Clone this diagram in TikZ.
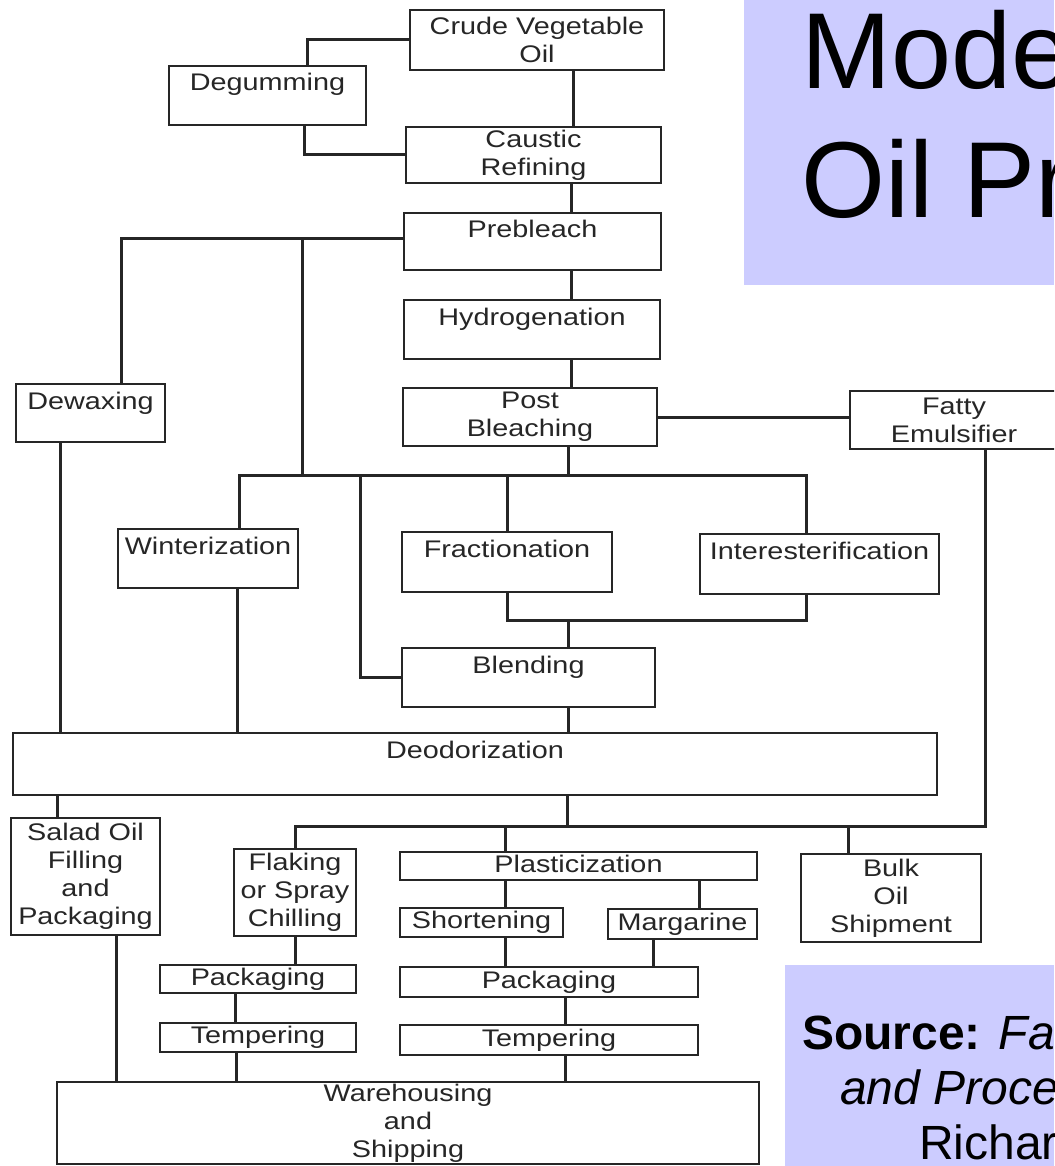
\documentclass[tikz,border=0pt]{standalone}
\usepackage{fontspec}
\usepackage{tikz}
\newfontfamily\flowfont[FakeStretch=1.2]{Liberation Sans}
\newfontfamily\slidefont{Liberation Sans}
\usetikzlibrary{
  positioning,
  calc
}
\definecolor{flowInk}{HTML}{262626}
\definecolor{slideBg}{HTML}{CCCCFF}
\tikzset{
  stage/.style={
    draw=flowInk, line width=2.6pt, inner sep=0pt, align=center,
    text=flowInk, font=\flowfont\fontsize{24pt}{28pt}\selectfont
  },
  topstage/.style={stage, inner ysep=8pt, text height=17pt, text depth=#1},
  thinstage/.style={stage, text height=17pt, text depth=5pt},
  link/.style={draw=flowInk, line width=3pt},
  slidebox/.style={fill=slideBg, draw=none},
  slidetitle/.style={font=\slidefont\fontsize{108pt}{129pt}\selectfont, align=left, inner sep=0pt, anchor=north west},
  slidenote/.style={font=\slidefont\fontsize{48pt}{55pt}\selectfont, align=left, inner sep=0pt, anchor=north west}
}
\begin{document}
\begin{tikzpicture}[x=1pt, y=-1pt]
  \useasboundingbox (0,0) rectangle (1054,1166);
  \clip (0,0) rectangle (1054,1166);
  \fill[white] (0,0) rectangle (1054,1166);
  \fill[slidebox] (744,0) rectangle (1054,285);
  \fill[slidebox] (785,965) rectangle (1054,1166);
  \node[slidetitle] (title) at (801,10.5) {Mode\\Oil Pr};
  \node[slidenote] (source) at (802,1015.5) {\textbf{Source:} \textit{Fa}\\\hspace*{38pt}\textit{and Proce}\\\hspace*{117pt}Richar};

  \node[stage, minimum width=254pt, minimum height=60pt] (crude) at (537,40) {Crude Vegetable\\Oil};
  \node[topstage=26pt, minimum width=197pt, minimum height=59pt] (degum) at (267.5,95.5) {Degumming};
  \node[stage, minimum width=255pt, minimum height=56pt] (caustic) at (533.5,155) {Caustic\\Refining};
  \node[topstage=24pt, minimum width=257pt, minimum height=57pt] (prebleach) at (532.5,241.5) {Prebleach};
  \node[topstage=26pt, minimum width=256pt, minimum height=59pt] (hydro) at (532,329.5) {Hydrogenation};
  \node[stage, minimum width=254pt, minimum height=58pt] (post) at (530,417) {Post\\Bleaching};
  \node[stage, minimum width=208pt, minimum height=58pt] (fatty) at (954,420) {Fatty\\Emulsifier};
  \node[topstage=25pt, minimum width=149pt, minimum height=58pt] (dewax) at (90.5,413) {Dewaxing};
  \node[topstage=26pt, minimum width=180pt, minimum height=59pt] (winter) at (208,558.5) {Winterization};
  \node[topstage=27pt, minimum width=210pt, minimum height=60pt] (fract) at (507,562) {Fractionation};
  \node[topstage=27pt, minimum width=239pt, minimum height=60pt] (inter) at (819.5,564) {Interesterification};
  \node[topstage=26pt, minimum width=253pt, minimum height=59pt] (blend) at (528.5,677.5) {Blending};
  \node[topstage=29pt, minimum width=924pt, minimum height=62pt] (deodor) at (475,764) {Deodorization};
  \node[stage, minimum width=149pt, minimum height=117pt] (salad) at (85.5,876.5) {Salad Oil\\Filling\\and\\Packaging};
  \node[stage, minimum width=122pt, minimum height=87pt] (flaking) at (295,892.5) {Flaking\\or Spray\\Chilling};
  \node[thinstage, minimum width=357pt, minimum height=28pt] (plastic) at (578.5,866) {Plasticization};
  \node[stage, minimum width=180pt, minimum height=88pt] (bulk) at (891,898) {Bulk\\Oil\\Shipment};
  \node[thinstage, minimum width=163pt, minimum height=29pt] (short) at (481.5,922.5) {Shortening};
  \node[thinstage, minimum width=149pt, minimum height=30pt] (marg) at (682.5,924) {Margarine};
  \node[thinstage, minimum width=196pt, minimum height=28pt] (packL) at (258,979) {Packaging};
  \node[thinstage, minimum width=298pt, minimum height=30pt] (packR) at (549,982) {Packaging};
  \node[thinstage, minimum width=196pt, minimum height=29pt] (tempL) at (258,1037.5) {Tempering};
  \node[thinstage, minimum width=298pt, minimum height=30pt] (tempR) at (549,1040) {Tempering};
  \node[stage, minimum width=702pt, minimum height=82pt] (ware) at (408,1123) {Warehousing\\and\\Shipping};

  \coordinate (pbr) at (302,239);
  \coordinate (busL) at (239,475);
  \coordinate (busR) at (806,475);
  \coordinate (blendL) at (360,475);
  \coordinate (jf) at (568,620);
  \coordinate (busB) at (296,826);

  \draw[link] (crude.west) -| ([xshift=39.5pt]degum.north);
  \draw[link] ([xshift=36.5pt]degum.south) |- (caustic.west);
  \draw[link] ([xshift=36pt]crude.south) -- ([xshift=39.5pt]caustic.north);
  \draw[link] ([xshift=37.5pt]caustic.south) -- ([xshift=38.5pt]prebleach.north);
  \draw[link] ([xshift=38.5pt]prebleach.south) -- ([xshift=39pt]hydro.north);
  \draw[link] ([xshift=39pt]hydro.south) -- ([xshift=41pt]post.north);
  \draw[link] ([yshift=2.5pt]prebleach.west) -| ([xshift=30.5pt]dewax.north);
  \draw[link] (pbr) -- (pbr |- busL);
  \draw[link] (winter.north -| busL) -- (busL) -- (busR) -- (inter.north -| busR);
  \draw[link] ([xshift=38pt]post.south) -- ([xshift=38pt]post.south |- busL);
  \draw[link] (fract.north) -- (fract.north |- busL);
  \draw[link] (blendL) |- (blend.west);
  \draw[link] (post.east) -- (post.east -| fatty.west);
  \draw[link] (fract.south) |- (jf) -| ([xshift=-13.5pt]inter.south);
  \draw[link] (jf) -- (jf |- blend.north);
  \draw[link] ([xshift=39.5pt]blend.south) -- ([xshift=39.5pt]blend.south |- deodor.north);
  \draw[link] ([xshift=-30.5pt]dewax.south) -- ([xshift=-30.5pt]dewax.south |- deodor.north);
  \draw[link] ([xshift=29pt]winter.south) -- ([xshift=29pt]winter.south |- deodor.north);
  \draw[link] ([xshift=-28.5pt]salad.north) -- ([xshift=-28.5pt]salad.north |- deodor.south);
  \draw[link] ([xshift=31pt]fatty.south) |- (flaking.north |- busB) -- (flaking.north);
  \draw[link] ([xshift=92pt]deodor.south) -- ([xshift=92pt]deodor.south |- busB);
  \draw[link] ([xshift=-73.5pt]plastic.north) -- ([xshift=-73.5pt]plastic.north |- busB);
  \draw[link] ([xshift=-43pt]bulk.north) -- ([xshift=-43pt]bulk.north |- busB);
  \draw[link] ([xshift=23.5pt]short.north) -- ([xshift=23.5pt]short.north |- plastic.south);
  \draw[link] ([xshift=16.5pt]marg.north) -- ([xshift=16.5pt]marg.north |- plastic.south);
  \draw[link] ([xshift=23.5pt]short.south) -- ([xshift=23.5pt]short.south |- packR.north);
  \draw[link] ([xshift=-29.5pt]marg.south) -- ([xshift=-29.5pt]marg.south |- packR.north);
  \draw[link] (flaking.south) -- (flaking.south |- packL.north);
  \draw[link] ([xshift=-23pt]packL.south) -- ([xshift=-23pt]packL.south |- tempL.north);
  \draw[link] ([xshift=16pt]packR.south) -- ([xshift=16pt]packR.south |- tempR.north);
  \draw[link] ([xshift=-22pt]tempL.south) -- ([xshift=-22pt]tempL.south |- ware.north);
  \draw[link] ([xshift=16pt]tempR.south) -- ([xshift=16pt]tempR.south |- ware.north);
  \draw[link] ([xshift=30.5pt]salad.south) -- ([xshift=30.5pt]salad.south |- ware.north);
\end{tikzpicture}
\end{document}
